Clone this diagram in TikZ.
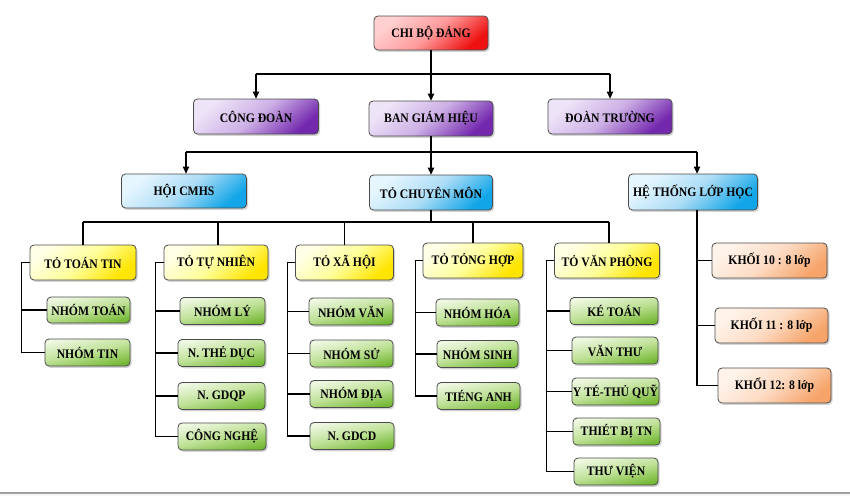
\documentclass[tikz,border=0pt]{standalone}
\usepackage{fontspec}
\setmainfont{Liberation Serif}[FakeStretch=0.9]
\usetikzlibrary{shadows,arrows.meta}
\definecolor{redA}{HTML}{FFD0D0}\definecolor{redB}{HTML}{FF9C9C}\definecolor{redC}{HTML}{EE1111}
\definecolor{purA}{HTML}{EEE4F8}\definecolor{purB}{HTML}{CDB0E6}\definecolor{purC}{HTML}{7428AE}
\definecolor{bluA}{HTML}{E6F6FF}\definecolor{bluB}{HTML}{AEDDF6}\definecolor{bluC}{HTML}{12A6E8}
\definecolor{yelA}{HTML}{FFFFE6}\definecolor{yelB}{HTML}{FFFF9C}\definecolor{yelC}{HTML}{FFE400}
\definecolor{grnA}{HTML}{EEF8E2}\definecolor{grnB}{HTML}{BFE197}\definecolor{grnC}{HTML}{74B834}
\definecolor{orgA}{HTML}{FFF3EA}\definecolor{orgB}{HTML}{FDDBC3}\definecolor{orgC}{HTML}{F6A46A}
\begin{document}
\begin{tikzpicture}[x=1pt,y=-1pt,
  box/.style={draw=black!70, line width=0.8pt, rounded corners=4pt,
    font=\fontsize{13}{15}\selectfont\bfseries, inner sep=0pt,
    drop shadow={shadow xshift=1.5pt,shadow yshift=-1.8pt,opacity=0.35}},
  sz/.style 2 args={minimum width=#1pt, minimum height=#2pt},
  shd/.style n args={3}{top color=#1, bottom color=#3, middle color=#2, shading angle=40},
  redbox/.style={box, shd={redA}{redB}{redC}},
  purbox/.style={box, shd={purA}{purB}{purC}},
  blubox/.style={box, shd={bluA}{bluB}{bluC}},
  yelbox/.style={box, shd={yelA}{yelB}{yelC}},
  orgbox/.style={box, shd={orgA}{orgB}{orgC}},
  grnbox/.style={box, top color=grnA, bottom color=grnC, middle color=grnB, shading angle=12, sz={85}{27}},
  wire/.style={line width=1.1pt, black},
  arr/.style={wire, -{Triangle[length=7pt,width=6.5pt]}},
]
\useasboundingbox (0,0) rectangle (850,496);
\fill[gray!6] (0,493) rectangle (850,496);
\draw[gray!75, line width=1.2pt] (0,493) -- (850,493);

% level 1
\node[redbox, sz={114}{34}] (chi) at (431,33) {CHI BỘ ĐẢNG};
% level 2
\node[purbox, sz={125}{35}] (cd) at (256,116.5) {CÔNG ĐOÀN};
\node[purbox, sz={124}{35}] (bgh) at (431,118.5) {BAN GIÁM HIỆU};
\node[purbox, sz={124}{35}] (dt) at (610,116.5) {ĐOÀN TRƯỜNG};
% level 3
\node[blubox, sz={125}{34}] (hoi) at (184,191) {HỘI CMHS};
\node[blubox, sz={123}{35}] (tcm) at (431,192.5) {TỎ CHUYÊN MÔN};
\node[blubox, sz={129}{36}] (ht) at (693,192) {HỆ THỐNG LỚP HỌC};
% level 4
\node[yelbox, sz={106}{35}] (toan) at (83,262.5) {TỎ TOÁN TIN};
\node[yelbox, sz={104}{35}] (tn) at (216,262.5) {TỎ TỰ NHIÊN};
\node[yelbox, sz={98}{35}] (xh) at (344.5,262.5) {TỎ XÃ HỘI};
\node[yelbox, sz={100}{35}] (th) at (473,260.5) {TỎ TỎNG HỢP};
\node[yelbox, sz={105}{35}] (vp) at (607,260.5) {TỎ VĂN PHÒNG};
% groups
\node[grnbox, sz={83}{26}] (g11) at (88.5,310) {NHÓM TOÁN};
\node[grnbox] (g12) at (87.5,352.5) {NHÓM TIN};
\node[grnbox] (g21) at (222.5,311) {NHÓM LÝ};
\node[grnbox, sz={87}{27}] (g22) at (221.5,353) {N. THẺ DỤC};
\node[grnbox, sz={87}{27}] (g23) at (221.5,396) {N. GDQP};
\node[grnbox, sz={88}{27}] (g24) at (222,436.5) {CÔNG NGHỆ};
\node[grnbox, sz={84}{27}] (g31) at (351,311.5) {NHÓM VĂN};
\node[grnbox, sz={83}{27}] (g32) at (351.5,353.5) {NHÓM SỬ};
\node[grnbox, sz={83}{27}] (g33) at (351.5,394) {NHÓM ĐỊA};
\node[grnbox, sz={84}{27}] (g34) at (352,436) {N. GDCD};
\node[grnbox, sz={83}{27}] (g41) at (477.5,312.5) {NHÓM HÓA};
\node[grnbox, sz={81}{27}] (g42) at (477.5,354) {NHÓM SINH};
\node[grnbox, sz={83}{27}] (g43) at (478.5,396) {TIÉNG ANH};
\node[grnbox, sz={88}{27}] (g51) at (614,311) {KÉ TOÁN};
\node[grnbox, sz={86}{27}] (g52) at (615,350.5) {VĂN THƯ};
\node[grnbox, sz={87}{27}] (g53) at (615.5,391.5) {Y TÉ-THỦ QUỸ};
\node[grnbox, sz={87}{27}] (g54) at (616.5,431.5) {THIÉT BỊ TN};
\node[grnbox, sz={84}{27}] (g55) at (616,471.5) {THƯ VIỆN};
% grades
\node[orgbox, sz={115}{35}] (k10) at (769.5,260.5) {KHỐI 10 : 8 lớp};
\node[orgbox, sz={113}{35}] (k11) at (771.5,325.5) {KHỐI 11 : 8 lớp};
\node[orgbox, sz={113}{35}] (k12) at (774.5,385.5) {KHỐI 12: 8 lớp};

% connectors level 1 -> 2
\coordinate (b1) at (431,74);
\draw[wire] (chi.south) -- (chi.south |- b1);
\draw[wire] (cd.north |- b1) -- (dt.north |- b1);
\draw[arr] (cd.north |- b1) -- (cd.north);
\draw[arr] (bgh.north |- b1) -- (bgh.north);
\draw[arr] (dt.north |- b1) -- (dt.north);
% level 2 -> 3
\coordinate (b2) at (431,152);
\coordinate (a1) at ([xshift=2pt]hoi.north);
\coordinate (a3) at ([xshift=4pt]ht.north);
\draw[wire] (bgh.south) -- (bgh.south |- b2);
\draw[wire] (a1 |- b2) -- (a3 |- b2);
\draw[arr] (a1 |- b2) -- (a1);
\draw[arr] (tcm.north |- b2) -- (tcm.north);
\draw[arr] (a3 |- b2) -- (a3);
% level 3 -> 4
\coordinate (b3) at (431,222);
\draw[wire] (tcm.south) -- (tcm.south |- b3);
\draw[wire] (toan.north |- b3) -- ([xshift=2pt]vp.north |- b3);
\draw[wire] (toan.north |- b3) -- (toan.north);
\draw[wire] ([xshift=2pt]tn.north |- b3) -- ([xshift=2pt]tn.north);
\draw[wire] (xh.north |- b3) -- (xh.north);
\draw[wire] (th.north |- b3) -- (th.north);
\draw[wire] ([xshift=2pt]vp.north |- b3) -- ([xshift=2pt]vp.north);
% spines
\coordinate (s1) at ([xshift=-8pt]toan.west);
\draw[wire] (toan.west) -- (s1) |- (g12.west);
\draw[wire] (s1) |- (g11.west);
\coordinate (s2) at ([xshift=-8pt]tn.west);
\draw[wire] (tn.west) -- (s2) |- (g24.west);
\draw[wire] (s2) |- (g21.west);
\draw[wire] (s2) |- (g22.west);
\draw[wire] (s2) |- (g23.west);
\coordinate (s3) at ([xshift=-8pt]xh.west);
\draw[wire] (xh.west) -- (s3) |- (g34.west);
\draw[wire] (s3) |- (g31.west);
\draw[wire] (s3) |- (g32.west);
\draw[wire] (s3) |- (g33.west);
\coordinate (s4) at ([xshift=-7pt]th.west);
\draw[wire] (th.west) -- (s4) |- (g43.west);
\draw[wire] (s4) |- (g41.west);
\draw[wire] (s4) |- (g42.west);
\coordinate (s5) at ([xshift=-8pt]vp.west);
\draw[wire] (vp.west) -- (s5) |- (g55.west);
\draw[wire] (s5) |- (g51.west);
\draw[wire] (s5) |- (g52.west);
\draw[wire] (s5) |- (g53.west);
\draw[wire] (s5) |- (g54.west);
\coordinate (s6) at ([xshift=4pt]ht.south);
\draw[wire] (s6) |- (k12.west);
\draw[wire] (s6) |- (k10.west);
\draw[wire] (s6) |- (k11.west);
\end{tikzpicture}
\end{document}
